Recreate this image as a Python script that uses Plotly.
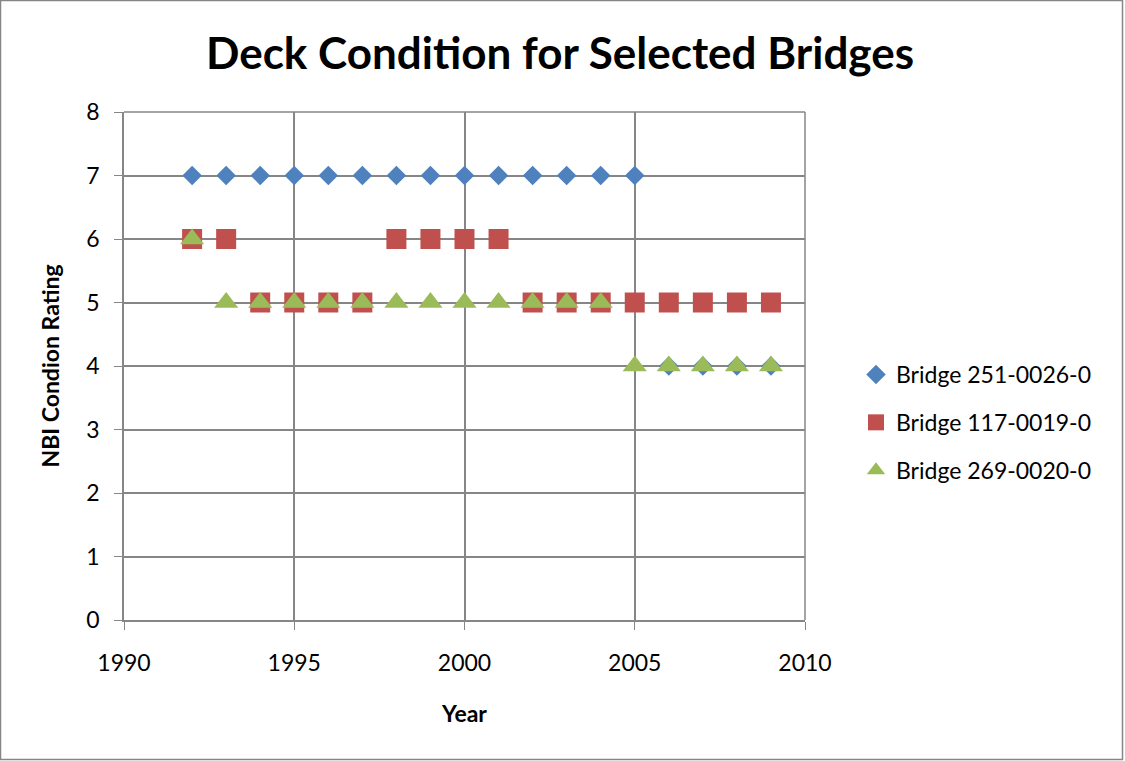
import plotly.graph_objects as go

years = list(range(1992, 2010))
bridge_251 = [7]*14 + [4]*4
bridge_117 = [6, 6, 5, 5, 5, 5, 6, 6, 6, 6, 5, 5, 5, 5, 5, 5, 5, 5]
bridge_269 = [6] + [5]*12 + [4]*5

names = ["Bridge 251-0026-0", "Bridge 117-0019-0", "Bridge 269-0020-0"]
colors = ["#4F81BD", "#C0504D", "#9BBB59"]
symbols = ["diamond", "square", "triangle-up"]
sizes = [15, 20, 21]
series = [bridge_251, bridge_117, bridge_269]

FONT = "Lato"
fig = go.Figure()
for i, (nm, ys) in enumerate(zip(names, series)):
    fig.add_trace(go.Scatter(
        x=years, y=ys, mode="markers", name=nm, legendgroup=nm,
        marker=dict(symbol=symbols[i], color=colors[i], size=sizes[i],
                    line=dict(width=0)),
    ))

W, H = 1125, 761
L, R, T, B = 124, 805, 112, 620
pw, ph = R - L, B - T
GRID = "#868686"

fig.update_layout(
    width=W, height=H,
    margin=dict(l=L, r=W - R, t=T, b=H - B),
    paper_bgcolor="white", plot_bgcolor="white",
    font=dict(family=FONT, color="black", size=23),
    title=dict(text="<b>Deck Condition for Selected Bridges</b>",
               x=560 / W, xanchor="center", y=1 - 54 / H, yanchor="middle",
               font=dict(size=44, family=FONT, color="black")),
    xaxis=dict(range=[1990, 2010], dtick=5, tick0=1990, showgrid=True,
               gridcolor=GRID, gridwidth=1.5, showline=True,
               linecolor=GRID, linewidth=1.5, ticks="outside",
               ticklen=8, tickcolor=GRID, zeroline=False,
               tickfont=dict(size=23), ticklabelstandoff=14,
               title=dict(text="<b>Year</b>", font=dict(size=23), standoff=31)),
    yaxis=dict(range=[0, 8], dtick=1, showgrid=True, gridcolor=GRID,
               gridwidth=1.5, showline=True, linecolor=GRID, linewidth=1.5,
               ticks="outside", ticklen=8, tickcolor=GRID, zeroline=False,
               tickfont=dict(size=23), ticklabelstandoff=10,
               title=dict(text="<b>NBI Condion Rating</b>", font=dict(size=23),
                          standoff=20)),
    legend=dict(x=(856 - L) / pw, xanchor="left", y=(B - 353) / ph,
                yanchor="top", font=dict(size=23), tracegroupgap=15,
                bgcolor="rgba(0,0,0,0)"),
    showlegend=True,
)

# outer chart border
fig.add_shape(type="rect", xref="paper", yref="paper",
              x0=(0.5 - L) / pw, x1=(1122.5 - L) / pw,
              y0=(B - 759.5) / ph, y1=(B - 0.5) / ph,
              line=dict(color=GRID, width=1.5), layer="below")
# right / top plot edge lines
fig.add_shape(type="line", xref="paper", yref="paper", x0=1, x1=1, y0=0, y1=1,
              line=dict(color=GRID, width=1.5), layer="below")
fig.add_shape(type="line", xref="paper", yref="paper", x0=0, x1=1, y0=1, y1=1,
              line=dict(color=GRID, width=1.5), layer="below")

fig.write_html("out.html")
